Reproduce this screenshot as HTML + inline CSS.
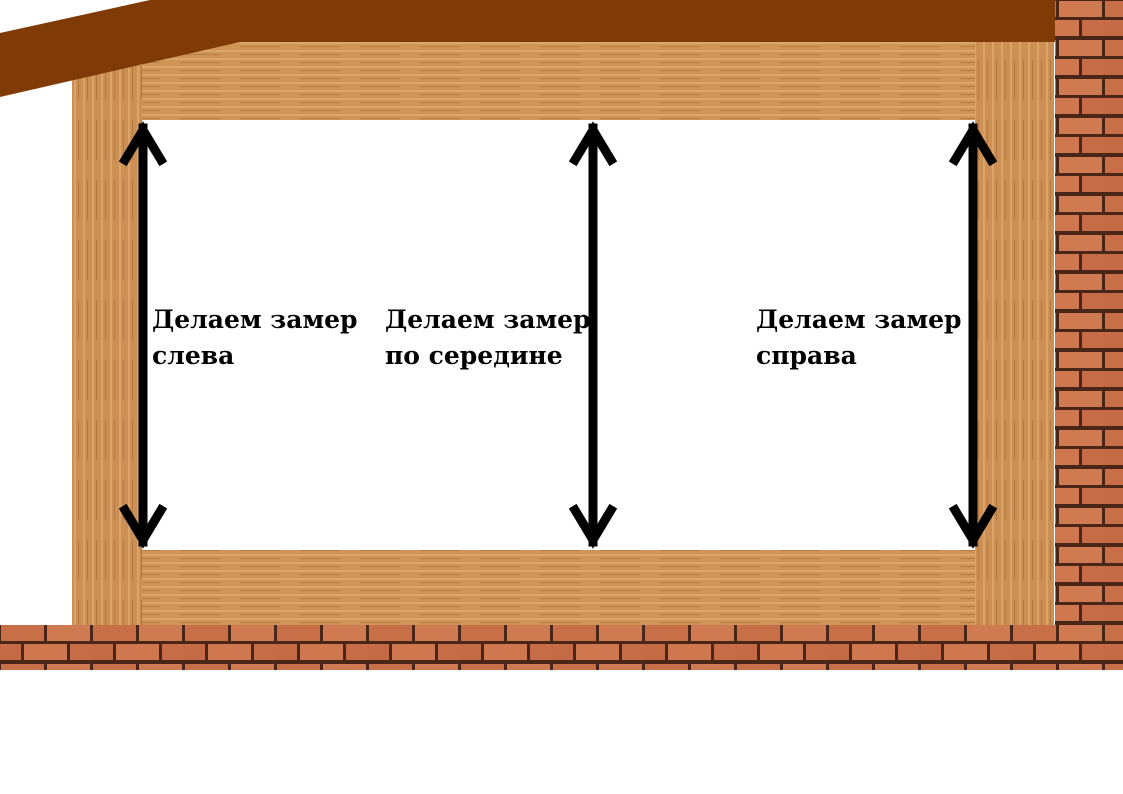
<!DOCTYPE html>
<html><head><meta charset="utf-8"><style>
body{margin:0;width:1123px;height:794px;background:#fff;position:relative;overflow:hidden}
.d{position:absolute}
.t{position:absolute;font-family:"DejaVu Serif","Liberation Serif",serif;font-weight:bold;font-size:25px;line-height:36px;color:#000;white-space:nowrap}
</style></head><body>
<svg class="d" style="left:0;top:0" width="1123" height="794">
<defs>
<pattern id="br" width="92" height="39" patternUnits="userSpaceOnUse">
<rect width="92" height="39" fill="#4a2618"/>
<rect x="1" y="1" width="43" height="16" fill="#c96f48"/>
<rect x="47" y="1" width="43" height="16" fill="#d07a52"/>
<rect x="-22" y="20" width="43" height="16" fill="#c46a44"/>
<rect x="24" y="20" width="43" height="16" fill="#cf7850"/>
<rect x="70" y="20" width="43" height="16" fill="#c66c46"/>
</pattern>
<pattern id="wh" width="60" height="8" patternUnits="userSpaceOnUse">
<rect width="60" height="8" fill="#cf9458"/><rect y="2" width="60" height="2" fill="#dca56a"/><rect y="6" width="40" height="1" fill="#b87c42"/>
</pattern>
<pattern id="wv" width="9" height="60" patternUnits="userSpaceOnUse">
<rect width="9" height="60" fill="#cc9054"/><rect x="2" width="2" height="60" fill="#dba468"/><rect x="6" width="1" height="40" fill="#b47840"/>
</pattern>
</defs>
<rect x="1055" y="0" width="68" height="670" fill="url(#br)"/>
<rect x="0" y="625" width="1123" height="45" fill="url(#br)"/>
<rect x="142" y="42" width="835" height="78" fill="url(#wh)"/>
<rect x="142" y="550" width="835" height="75" fill="url(#wh)"/>
<rect x="72" y="65" width="70" height="560" fill="url(#wv)"/>
<rect x="975" y="42" width="79" height="583" fill="url(#wv)"/>
<polygon points="0,33 150,0 1055,0 1055,42 240,42 0,97" fill="#7f3a06"/>
<g stroke="#000" stroke-width="9" fill="none" stroke-linecap="square">
<line x1="143" y1="128" x2="143" y2="542"/><polyline points="125,160 143,130 161,160"/><polyline points="125,510 143,540 161,510"/>
<line x1="593" y1="128" x2="593" y2="542"/><polyline points="575,160 593,130 611,160"/><polyline points="575,510 593,540 611,510"/>
<line x1="973" y1="128" x2="973" y2="542"/><polyline points="955,160 973,130 991,160"/><polyline points="955,510 973,540 991,510"/>
</g>
</svg>
<div class="t" style="left:152px;top:302px">Делаем замер<br>слева</div>
<div class="t" style="left:385px;top:302px">Делаем замер<br>по середине</div>
<div class="t" style="left:756px;top:302px">Делаем замер<br>справа</div>
</body></html>
